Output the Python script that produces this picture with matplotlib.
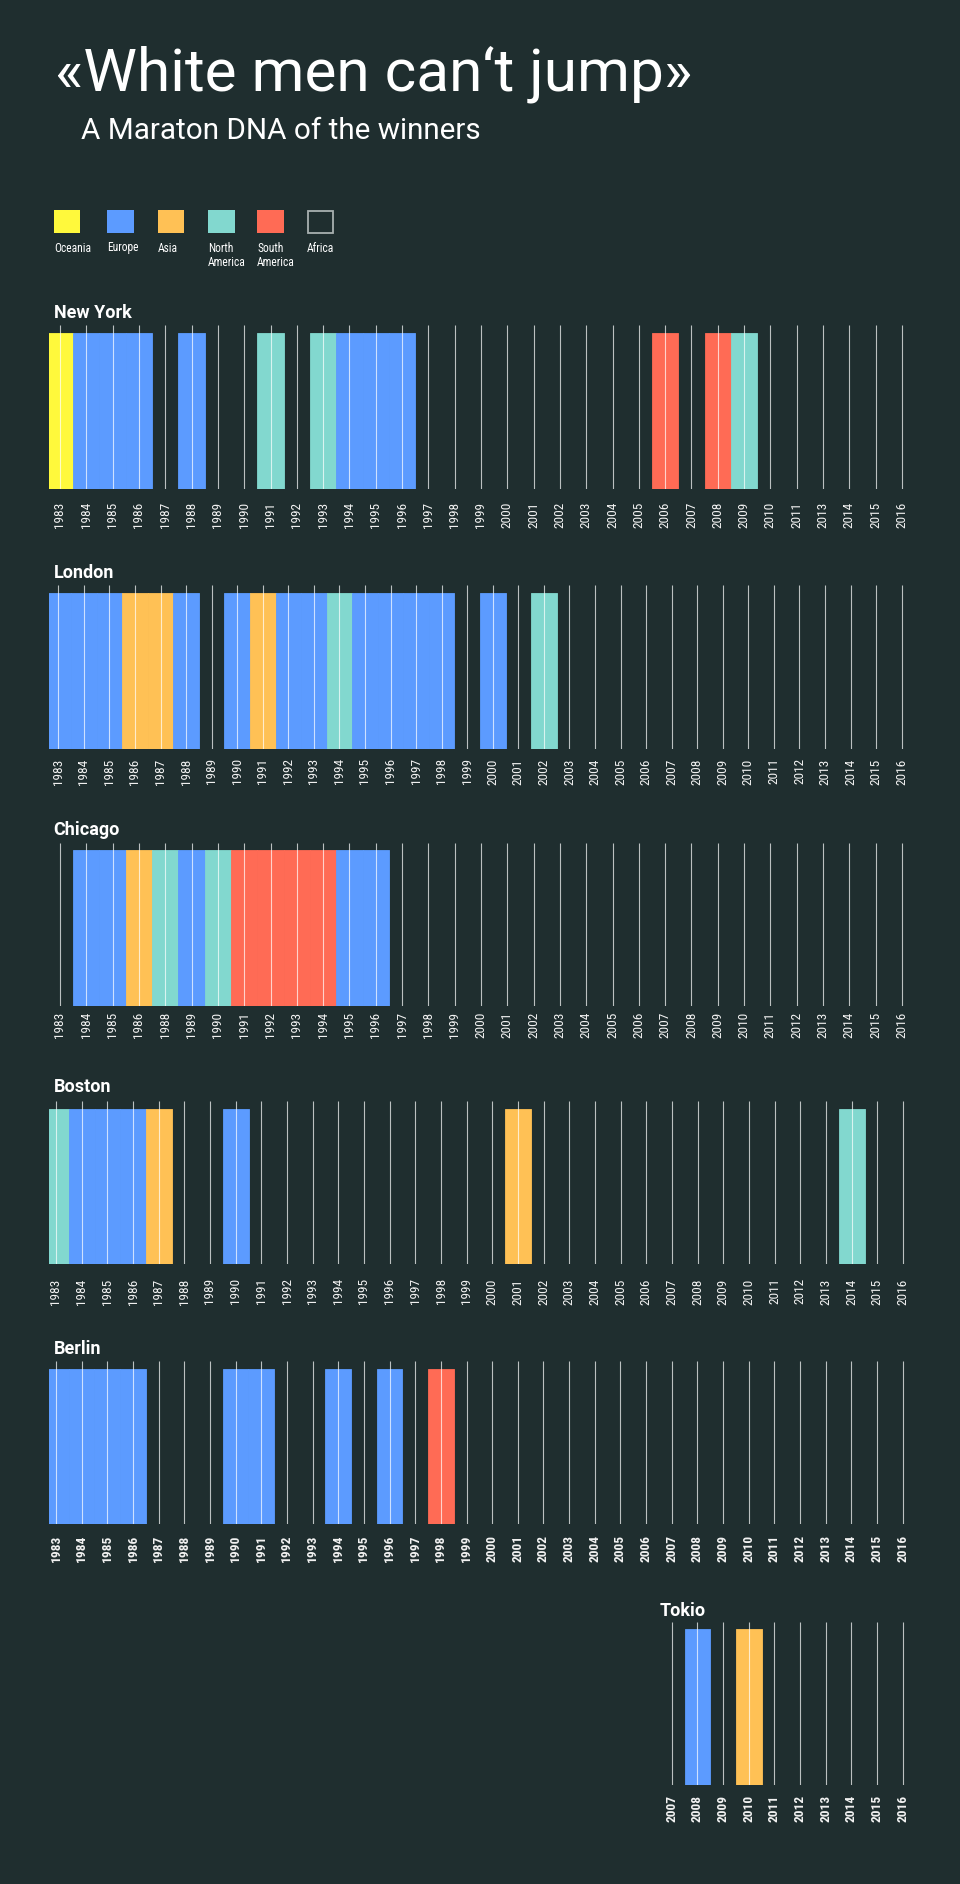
import matplotlib
matplotlib.use("Agg")
import matplotlib.pyplot as plt
from matplotlib import font_manager
from matplotlib.patches import Rectangle

# ---------------- data ----------------
legend_labels = ["Oceania", "Europe", "Asia", "North\nAmerica", "South\nAmerica", "Africa"]
legend_codes = ["OC", "EU", "AS", "NA", "SA", "AF"]
continent_colors = {"OC": "#fff93c", "EU": "#5c9bff", "AS": "#ffc155",
                    "NA": "#82d8cf", "SA": "#ff6b55", "AF": None}

ny_years = list(range(1983, 2012)) + [2013, 2014, 2015, 2016]
ny_winners = ["OC", "EU", "EU", "EU", "AF", "EU", "AF", "AF", "NA", "AF",
              "NA", "EU", "EU", "EU", "AF", "AF", "AF", "AF", "AF", "AF",
              "AF", "AF", "AF", "SA", "AF", "SA", "NA", "AF", "AF",
              "AF", "AF", "AF", "AF"]

london_years = list(range(1983, 2017))
london_winners = ["EU", "EU", "EU", "AS", "AS", "EU", "AF", "EU", "AS", "EU",
                  "EU", "NA", "EU", "EU", "EU", "EU", "AF", "EU", "AF", "NA",
                  "AF", "AF", "AF", "AF", "AF", "AF", "AF", "AF", "AF", "AF",
                  "AF", "AF", "AF", "AF"]

chicago_years = [1983, 1984, 1985, 1986] + list(range(1988, 2017))
chicago_winners = ["AF", "EU", "EU", "AS", "NA", "EU", "NA", "SA", "SA", "SA",
                   "SA", "EU", "EU", "AF", "AF", "AF", "AF", "AF", "AF", "AF",
                   "AF", "AF", "AF", "AF", "AF", "AF", "AF", "AF", "AF", "AF",
                   "AF", "AF", "AF"]

boston_years = list(range(1983, 2017))
boston_winners = ["NA", "EU", "EU", "EU", "AS", "AF", "AF", "EU", "AF", "AF",
                  "AF", "AF", "AF", "AF", "AF", "AF", "AF", "AF", "AS", "AF",
                  "AF", "AF", "AF", "AF", "AF", "AF", "AF", "AF", "AF", "AF",
                  "AF", "NA", "AF", "AF"]

berlin_years = list(range(1983, 2017))
berlin_winners = ["EU", "EU", "EU", "EU", "AF", "AF", "AF", "EU", "EU", "AF",
                  "AF", "EU", "AF", "EU", "AF", "SA", "AF", "AF", "AF", "AF",
                  "AF", "AF", "AF", "AF", "AF", "AF", "AF", "AF", "AF", "AF",
                  "AF", "AF", "AF", "AF"]

tokio_years = list(range(2007, 2017))
tokio_winners = ["AF", "EU", "AF", "AS", "AF", "AF", "AF", "AF", "AF", "AF"]

# ---------------- style ----------------
W, H = 960, 1884
BG = "#1f2e2f"
names = {f.name for f in font_manager.fontManager.ttflist}


def pick(*cands):
    for c in cands:
        if c in names:
            return c
    return "DejaVu Sans"


NARROW = pick("Liberation Sans Narrow", "DejaVu Sans Condensed", "Roboto Condensed", "Roboto")
SANS = pick("Roboto", "Inter", "DejaVu Sans")

fig = plt.figure(figsize=(W / 100, H / 100), dpi=100, facecolor=BG)


def fx(px):
    return px / W


def fy(py):
    return 1 - py / H


# title
fig.text(fx(55), fy(90.7), "«White men can‘t jump»", fontsize=43.5, color="white",
         family=SANS, va="baseline", ha="left")
fig.text(fx(81), fy(139.3), "A Maraton DNA of the winners", fontsize=21.3, color="white",
         family=SANS, va="baseline", ha="left")

# legend
leg_x = [54, 107.2, 158, 208.2, 257.2, 306.8]
for x, code, lab in zip(leg_x, legend_codes, legend_labels):
    col = continent_colors[code]
    if col is None:
        r = Rectangle((fx(x + 0.7), fy(233)), 25 / W, 22.5 / H, transform=fig.transFigure,
                      facecolor="none", edgecolor="#a8b0b0", linewidth=1.3)
    else:
        r = Rectangle((fx(x), fy(233.3)), 26.3 / W, 23.3 / H, transform=fig.transFigure,
                      facecolor=col, edgecolor="none")
    fig.patches.append(r)
    fig.text(fx(x), fy(241.5), lab, fontsize=8.3, color="white", family=NARROW,
             va="top", ha="left", linespacing=1.15)


def panel(name, years, winners, x0, x1, left, top, bar_top, bottom, tx, tby, gap, bold):
    n = len(years)
    s = (x1 - x0) / (n - 1)
    right = 945
    ax = fig.add_axes([fx(left), fy(bottom), (right - left) / W, (bottom - top) / H])
    ax.set_facecolor("none")
    for sp in ax.spines.values():
        sp.set_visible(False)
    ax.set_xlim((left - x0) / s, (right - x0) / s)
    hgt = bottom - top
    ax.set_ylim(0, hgt)
    idx = [i for i, w in enumerate(winners) if continent_colors[w] is not None]
    cols = [continent_colors[winners[i]] for i in idx]
    ax.bar(idx, [bottom - bar_top] * len(idx), width=1.0, color=cols,
           edgecolor=cols, linewidth=0.6, zorder=2)
    ax.vlines(range(n), 0, hgt, colors="white", alpha=0.7, linewidth=0.8, zorder=3)
    ax.set_yticks([])
    ax.set_xticks(range(n))
    ax.set_xticklabels([str(y) for y in years], rotation=90, fontsize=9.6,
                       color="#f2f2f2", family=NARROW,
                       fontweight="bold" if bold else "normal")
    ax.tick_params(axis="x", length=0, pad=gap * 0.72)
    fig.text(fx(tx), fy(tby), name, fontsize=13, fontweight="bold", color="white",
             family=SANS, va="baseline", ha="left")


panel("New York", ny_years, ny_winners, 60, 902, 48.7, 325, 333.3, 488.7, 54, 317.7, 13, False)
panel("London", london_years, london_winners, 58.3, 901.7, 48.7, 585, 593.3, 748.7, 53.5, 578.3, 9.6, False)
panel("Chicago", chicago_years, chicago_winners, 60, 902, 48.7, 842.7, 850.3, 1005.7, 53.5, 835, 6, False)
panel("Boston", boston_years, boston_winners, 56, 903, 48.7, 1101, 1109.3, 1264.3, 53.5, 1092.5, 14, False)
panel("Berlin", berlin_years, berlin_winners, 56, 902.7, 48.7, 1360.7, 1368.7, 1524, 53.5, 1354, 11, True)
panel("Tokio", tokio_years, tokio_winners, 671.7, 902.7, 655, 1621.7, 1629.3, 1785, 659.3, 1616, 10, True)

fig.savefig("out.png", dpi=100, facecolor=BG)
